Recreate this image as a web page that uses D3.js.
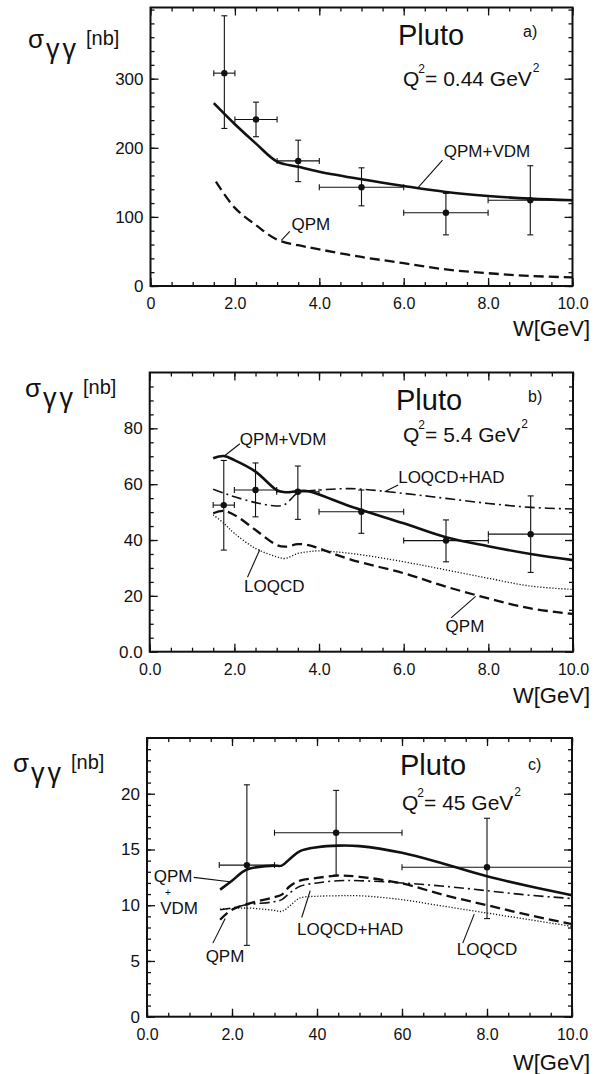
<!DOCTYPE html>
<html>
<head>
<meta charset="utf-8">
<script src="https://cdn.jsdelivr.net/npm/d3@7"></script>
<style>
body { margin: 0; background: #fff; }
text { font-family: "Liberation Sans", Arial, sans-serif; fill: #111; }
</style>
</head>
<body>
<script>
// ---- panel a) Q^2 = 0.44 GeV^2 ----
var aPointW = [1.75, 2.5, 3.5, 5.0, 7.0, 9.0];
var aPointWLo = [1.5, 2.0, 3.0, 4.0, 6.0, 8.0];
var aPointWHi = [2.0, 3.0, 4.0, 6.0, 8.0, 10.0];
var aSigma = [308, 241, 181, 143, 106, 124];
var aSigmaLo = [228, 216, 151, 116, 74, 74];
var aSigmaHi = [391, 266, 211, 171, 134, 174];

var aCurveW = [1.5, 2.0, 2.5, 3.0, 3.5, 4.0, 5.0, 6.0, 7.0, 8.0, 9.0, 10.0];
var aQpmVdm = [264.5, 234, 206, 180, 172.6, 165.4, 154.4, 144.7, 136, 130.3, 126.5, 124];
var aQpmW = [1.55, 2.0, 2.5, 3.0, 3.5, 4.0, 5.0, 6.0, 7.0, 8.0, 9.0, 10.0];
var aQpm = [151, 113, 88, 67, 59, 53, 42, 33, 24, 18.5, 14.5, 12.5];

// ---- panel b) Q^2 = 5.4 GeV^2 ----
var bPointW = [1.75, 2.5, 3.5, 5.0, 7.0, 9.0];
var bPointWLo = [1.5, 2.0, 3.0, 4.0, 6.0, 8.0];
var bPointWHi = [2.0, 3.0, 4.0, 6.0, 8.0, 10.0];
var bSigma = [52.5, 57.9, 57.3, 50.1, 39.8, 42.1];
var bSigmaLo = [36.4, 48.3, 47.4, 42.4, 32.2, 28.4];
var bSigmaHi = [68.5, 67.6, 66.5, 57.9, 47.2, 55.8];

var bCurveW = [1.5, 1.75, 2.0, 2.5, 3.0, 3.2, 3.5, 3.75, 4.0, 4.75, 6.0, 7.0, 8.0, 9.0, 10.0];
var bQpmVdm = [69.3, 70.1, 68.6, 64.5, 57.9, 57.1, 57.5, 57.5, 56.3, 52, 46, 41, 37.8, 35, 32.8];
var bLoqcdHad = [58.2, 56.8, 55.5, 53.4, 52.2, 52.8, 56.9, 57.6, 57.9, 58.4, 56.7, 54.9, 53.1, 51.7, 51.1];
var bQpm = [49.6, 50.4, 49, 43.6, 38.2, 37.6, 38.5, 38.2, 37, 33, 28.1, 23.3, 19.1, 15.5, 13.5];
var bLoqcd = [49, 46, 42.4, 37, 34, 33.4, 35.2, 35.8, 36.1, 35.2, 32.2, 29.3, 26.3, 23.5, 22.3];

// ---- panel c) Q^2 = 45 GeV^2 ----
var cPointW = [2.35, 4.45, 8.0];
var cPointWLo = [1.7, 3.0, 6.0];
var cPointWHi = [3.0, 6.0, 10.0];
var cSigma = [13.6, 16.5, 13.4];
var cSigmaLo = [6.4, 12.7, 8.8];
var cSigmaHi = [20.8, 20.3, 17.8];

var cCurveW = [1.72, 2.0, 2.35, 2.97, 3.17, 3.36, 3.6, 4.0, 4.5, 5.0, 6.0, 7.0, 8.0, 9.0, 10.0];
var cQpmVdm = [11.4, 12.2, 13.2, 13.55, 13.55, 14.15, 14.85, 15.2, 15.35, 15.3, 14.7, 13.7, 12.6, 11.7, 10.9];
var cQpm = [8.7, 9.6, 10.1, 10.7, 10.95, 11.7, 12.2, 12.45, 12.65, 12.55, 11.95, 10.9, 10.0, 9.1, 8.3];
var cLoqcdHad = [9.6, 9.75, 10.05, 10.3, 10.5, 11.1, 11.7, 12.0, 12.2, 12.2, 12.0, 11.7, 11.3, 10.9, 10.6];
var cLoqcd = [9.65, 9.7, 9.75, 9.55, 9.45, 9.95, 10.65, 10.8, 10.85, 10.85, 10.5, 9.9, 9.3, 8.7, 8.1];

// tick labels
var xTickValues = [0, 2, 4, 6, 8, 10];
var aXTickLabels = ["0", "2.0", "4.0", "6.0", "8.0", "10.0"];
var bXTickLabels = ["0.0", "2.0", "4.0", "6.0", "8.0", "10.0"];
var cXTickLabels = ["0.0", "2.0", "40", "60", "8.0", "10.0"];
var aYTickValues = [0, 100, 200, 300];
var aYTickLabels = ["0", "100", "200", "300"];
var bYTickValues = [0, 20, 40, 60, 80];
var bYTickLabels = ["0.0", "20", "40", "60", "80"];
var cYTickValues = [0, 5, 10, 15, 20];
var cYTickLabels = ["0", "5", "10", "15", "20"];

var styles = {
    solid: { dash: null, width: 2.6 },
    dashed: { dash: "10,5", width: 2.3 },
    dashdot: { dash: "10,4,2,4", width: 1.6 },
    dotted: { dash: "1.2,1.8", width: 1.3 }
};

var svg = d3.select("body").append("svg")
    .attr("width", 594)
    .attr("height", 1074);

svg.append("rect").attr("width", 594).attr("height", 1074).attr("fill", "#fff");

function zipPoints(w, s, wLo, wHi, sLo, sHi) {
    return w.map(function (d, i) {
        return { w: d, s: s[i], wLo: wLo[i], wHi: wHi[i], sLo: sLo[i], sHi: sHi[i] };
    });
}

function zipCurve(w, s) {
    return w.map(function (d, i) { return [d, s[i]]; });
}

function drawPanel(p) {
    var x = d3.scaleLinear().domain([0, 10]).range([p.left, p.right]);
    var y = d3.scaleLinear().domain([0, p.yMax]).range([p.bottom, p.top]);
    var g = svg.append("g");

    var minorX = d3.range(0, 10.01, 0.5);
    var minorY = d3.range(0, p.yMax, p.yMinor);

    // minor ticks, all four sides, inward
    g.append("g").attr("transform", "translate(0," + p.bottom + ")")
        .call(d3.axisBottom(x).tickValues(minorX).tickSize(-4).tickFormat(""));
    g.append("g").attr("transform", "translate(0," + p.top + ")")
        .call(d3.axisTop(x).tickValues(minorX).tickSize(-4).tickFormat(""));
    g.append("g").attr("transform", "translate(" + p.left + ",0)")
        .call(d3.axisLeft(y).tickValues(minorY).tickSize(-4).tickFormat(""));
    g.append("g").attr("transform", "translate(" + p.right + ",0)")
        .call(d3.axisRight(y).tickValues(minorY).tickSize(-4).tickFormat(""));

    // major ticks with labels
    g.append("g").attr("transform", "translate(0," + p.bottom + ")")
        .call(d3.axisBottom(x).tickValues(xTickValues).tickSize(-8).tickPadding(12)
            .tickFormat(function (d, i) { return p.xLabels[i]; }))
        .attr("class", "xaxis");
    g.append("g").attr("transform", "translate(0," + p.top + ")")
        .call(d3.axisTop(x).tickValues(xTickValues).tickSize(-8).tickFormat(""));
    g.append("g").attr("transform", "translate(" + p.left + ",0)")
        .call(d3.axisLeft(y).tickValues(p.yTicks).tickSize(-8).tickPadding(7)
            .tickFormat(function (d, i) { return p.yLabels[i]; }))
        .attr("class", "yaxis");
    g.append("g").attr("transform", "translate(" + p.right + ",0)")
        .call(d3.axisRight(y).tickValues(p.yTicks).tickSize(-8).tickFormat(""));

    g.selectAll(".domain").remove();
    g.selectAll(".tick line").attr("stroke", "#111").attr("stroke-width", 1.3);
    g.selectAll(".xaxis text").attr("font-size", 16).attr("fill", "#111")
        .style("font-family", "Liberation Sans, Arial, sans-serif");
    g.selectAll(".yaxis text").attr("font-size", 17).attr("fill", "#111")
        .style("font-family", "Liberation Sans, Arial, sans-serif");

    // frame
    g.append("rect")
        .attr("x", p.left).attr("y", p.top)
        .attr("width", p.right - p.left).attr("height", p.bottom - p.top)
        .attr("fill", "none").attr("stroke", "#111").attr("stroke-width", 2);

    // curves
    var line = d3.line()
        .x(function (d) { return x(d[0]); })
        .y(function (d) { return y(d[1]); })
        .curve(d3.curveCatmullRom.alpha(0.5));
    p.curves.forEach(function (c) {
        var st = styles[c.style];
        g.append("path")
            .datum(c.data)
            .attr("d", line)
            .attr("fill", "none")
            .attr("stroke", "#111")
            .attr("stroke-width", st.width)
            .attr("stroke-dasharray", st.dash);
    });

    // data points with error bars
    var pts = g.selectAll(".pt").data(p.points).enter().append("g");
    var cap = 3;
    pts.append("line")
        .attr("x1", function (d) { return x(d.w); }).attr("x2", function (d) { return x(d.w); })
        .attr("y1", function (d) { return y(d.sLo); }).attr("y2", function (d) { return y(d.sHi); });
    pts.append("line")
        .attr("x1", function (d) { return x(d.wLo); }).attr("x2", function (d) { return x(d.wHi); })
        .attr("y1", function (d) { return y(d.s); }).attr("y2", function (d) { return y(d.s); });
    pts.append("line")
        .attr("x1", function (d) { return x(d.w) - cap; }).attr("x2", function (d) { return x(d.w) + cap; })
        .attr("y1", function (d) { return y(d.sLo); }).attr("y2", function (d) { return y(d.sLo); });
    pts.append("line")
        .attr("x1", function (d) { return x(d.w) - cap; }).attr("x2", function (d) { return x(d.w) + cap; })
        .attr("y1", function (d) { return y(d.sHi); }).attr("y2", function (d) { return y(d.sHi); });
    pts.append("line")
        .attr("x1", function (d) { return x(d.wLo); }).attr("x2", function (d) { return x(d.wLo); })
        .attr("y1", function (d) { return y(d.s) - cap; }).attr("y2", function (d) { return y(d.s) + cap; });
    pts.append("line")
        .attr("x1", function (d) { return x(d.wHi); }).attr("x2", function (d) { return x(d.wHi); })
        .attr("y1", function (d) { return y(d.s) - cap; }).attr("y2", function (d) { return y(d.s) + cap; });
    pts.selectAll("line").attr("stroke", "#111").attr("stroke-width", 1.1);
    pts.append("circle")
        .attr("cx", function (d) { return x(d.w); })
        .attr("cy", function (d) { return y(d.s); })
        .attr("r", 3.2).attr("fill", "#111");

    // curve labels and leader lines
    p.labels.forEach(function (l) {
        g.append("text")
            .attr("x", x(l.w)).attr("y", y(l.s))
            .attr("font-size", l.size || 17)
            .attr("text-anchor", l.anchor || "start")
            .text(l.text);
    });
    p.leaders.forEach(function (l) {
        g.append("line")
            .attr("x1", x(l[0])).attr("y1", y(l[1]))
            .attr("x2", x(l[2])).attr("y2", y(l[3]))
            .attr("stroke", "#111").attr("stroke-width", 1.1);
    });

    // "Pluto", panel tag, Q^2 = ... GeV^2 as one text with superscripts
    g.append("text").attr("x", p.pluto[0]).attr("y", p.pluto[1])
        .attr("font-size", 29).text("Pluto");
    g.append("text").attr("x", p.tag[0]).attr("y", p.tag[1])
        .attr("font-size", 16).text(p.tagText);
    var q = g.append("text").attr("x", p.q2[0]).attr("y", p.q2[1]).attr("font-size", 21);
    q.append("tspan").text("Q");
    q.append("tspan").attr("font-size", 12).attr("dx", -1).attr("dy", -13).text("2");
    q.append("tspan").attr("dy", 13).attr("dx", 0).text("= " + p.q2Text + " GeV");
    q.append("tspan").attr("font-size", 12).attr("dy", -14).attr("dx", 1).text("2");

    // y title
    var t = g.append("text");
    t.append("tspan").attr("x", p.ylab[0]).attr("y", p.ylab[1]).attr("font-size", 26).text("σ");
    t.append("tspan").attr("x", p.ylab[0] + 18).attr("y", p.ylab[1] + 10).attr("font-size", 27)
        .attr("letter-spacing", 3).text("γγ");
    t.append("tspan").attr("x", p.ylab[0] + 58).attr("y", p.ylab[1] - 3).attr("font-size", 20).text("[nb]");

    // x title
    g.append("text").attr("x", 590).attr("y", p.wlab)
        .attr("text-anchor", "end").attr("font-size", 22).text("W[GeV]");
}

drawPanel({
    left: 150.5, right: 572.5, top: 7.5, bottom: 286, yMax: 403, yMinor: 20,
    yTicks: aYTickValues, yLabels: aYTickLabels, xLabels: aXTickLabels,
    points: zipPoints(aPointW, aSigma, aPointWLo, aPointWHi, aSigmaLo, aSigmaHi),
    curves: [
        { style: "solid", data: zipCurve(aCurveW, aQpmVdm) },
        { style: "dashed", data: zipCurve(aQpmW, aQpm) }
    ],
    labels: [
        { text: "QPM+VDM", w: 6.95, s: 186 },
        { text: "QPM", w: 3.34, s: 81 }
    ],
    leaders: [[6.92, 182, 6.35, 143], [3.3, 79, 3.1, 66]],
    pluto: [398, 45], tag: [523, 37], tagText: "a)",
    q2: [403, 86], q2Text: "0.44",
    ylab: [28, 48], wlab: 336
});

drawPanel({
    left: 149.7, right: 573, top: 372.5, bottom: 651.7, yMax: 100, yMinor: 5,
    yTicks: bYTickValues, yLabels: bYTickLabels, xLabels: bXTickLabels,
    points: zipPoints(bPointW, bSigma, bPointWLo, bPointWHi, bSigmaLo, bSigmaHi),
    curves: [
        { style: "solid", data: zipCurve(bCurveW, bQpmVdm) },
        { style: "dashdot", data: zipCurve(bCurveW, bLoqcdHad) },
        { style: "dashed", data: zipCurve(bCurveW, bQpm) },
        { style: "dotted", data: zipCurve(bCurveW, bLoqcd) }
    ],
    labels: [
        { text: "QPM+VDM", w: 2.13, s: 74 },
        { text: "LOQCD+HAD", w: 5.87, s: 60.4 },
        { text: "LOQCD", w: 2.23, s: 21.4 },
        { text: "QPM", w: 6.99, s: 7.0 }
    ],
    leaders: [[2.13, 74.5, 1.77, 70.2], [5.87, 59.7, 5.55, 57.3], [2.31, 26.7, 2.6, 36.5], [7.12, 12.1, 7.7, 19.8]],
    pluto: [396, 410], tag: [528, 402], tagText: "b)",
    q2: [403, 442], q2Text: "5.4",
    ylab: [25, 397], wlab: 703
});

drawPanel({
    left: 147, right: 572, top: 738, bottom: 1016.7, yMax: 25, yMinor: 1,
    yTicks: cYTickValues, yLabels: cYTickLabels, xLabels: cXTickLabels,
    points: zipPoints(cPointW, cSigma, cPointWLo, cPointWHi, cSigmaLo, cSigmaHi),
    curves: [
        { style: "solid", data: zipCurve(cCurveW, cQpmVdm) },
        { style: "dashed", data: zipCurve(cCurveW, cQpm) },
        { style: "dashdot", data: zipCurve(cCurveW, cLoqcdHad) },
        { style: "dotted", data: zipCurve(cCurveW, cLoqcd) }
    ],
    labels: [
        { text: "QPM", w: 0.16, s: 12.05 },
        { text: "+", w: 0.49, s: 10.8, anchor: "middle", size: 10 },
        { text: "VDM", w: 0.31, s: 9.25 },
        { text: "QPM", w: 1.38, s: 4.95 },
        { text: "LOQCD+HAD", w: 3.53, s: 7.35 },
        { text: "LOQCD", w: 7.29, s: 5.55 }
    ],
    leaders: [[1.1, 12.5, 1.95, 12.1], [1.55, 6.6, 1.84, 8.8], [3.64, 8.9, 3.84, 11.3], [7.43, 6.6, 7.7, 9.2]],
    pluto: [400, 775], tag: [528, 770], tagText: "c)",
    q2: [402, 810], q2Text: "45",
    ylab: [13, 772], wlab: 1070
});
</script>
</body>
</html>
